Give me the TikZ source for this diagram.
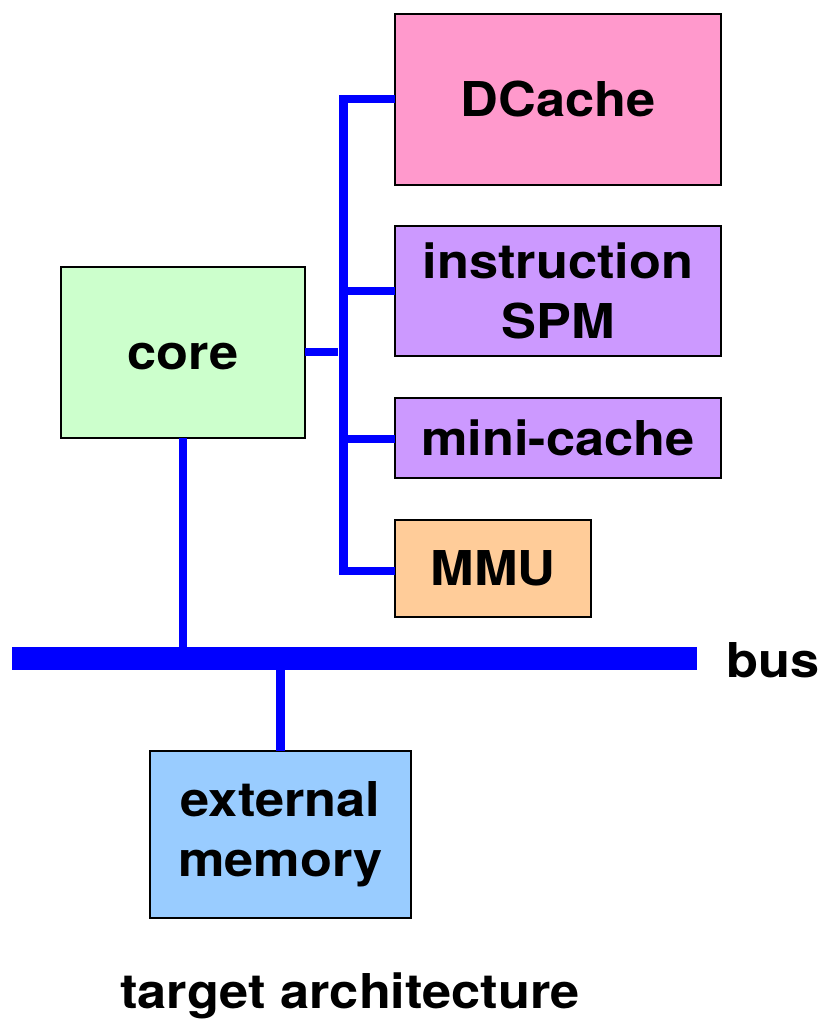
\documentclass[tikz,border=0pt]{standalone}
\usepackage{fontspec}
\setmainfont{TeX Gyre Heros}[FakeStretch=1.09]
\begin{document}
\begin{tikzpicture}[x=1pt,y=-1pt,
  box/.style={draw=black, line width=2pt, inner sep=0pt, outer sep=0pt,
    align=center, font=\fontsize{48}{60}\selectfont\bfseries},
  wire/.style={draw={rgb,255:red,0;green,0;blue,255}, line width=8.5pt, line join=miter},
  lbl/.style={inner sep=0pt, font=\fontsize{48}{60}\selectfont\bfseries}]
\definecolor{pinkc}{RGB}{255,153,204}
\definecolor{lilac}{RGB}{204,153,255}
\definecolor{peach}{RGB}{255,204,153}
\definecolor{mint}{RGB}{204,255,204}
\definecolor{skyc}{RGB}{153,204,255}
\definecolor{busblue}{RGB}{0,0,255}
\useasboundingbox (0,0) rectangle (823,1022);

% memory-side blocks
\node[box, fill=pinkc, minimum width=326pt, minimum height=171pt] (dc) at (558,99.5) {DCache};
\node[box, fill=lilac, minimum width=326pt, minimum height=130pt] (spm) at (558,291) {instruction\\SPM};
\node[box, fill=lilac, minimum width=326pt, minimum height=80pt] (mini) at (558,438) {mini-cache};
\node[box, fill=peach, minimum width=196pt, minimum height=97pt] (mmu) at (493,568.5) {MMU};

% processor and main memory
\node[box, fill=mint, minimum width=244pt, minimum height=171pt] (core) at (183,352.5) {};
\node[lbl] (corelbl) at (183,357) {core};
\node[box, fill=skyc, minimum width=261pt, minimum height=167pt] (ext) at (280.5,834.5) {external\\memory};

% system bus
\node[fill=busblue, inner sep=0pt, outer sep=0pt, minimum width=685pt, minimum height=23pt] (bus) at (354.5,658.5) {};
\node[lbl, anchor=west] (buslbl) at (726,660) {bus};

% local interconnect
\coordinate (sb) at (343.5,571);
\coordinate (stub) at (338,352);
\draw[wire] ([yshift=0.5pt]dc.west) -| (sb) -- (sb -| mmu.west);
\draw[wire] (spm.west) -- (spm.west -| sb);
\draw[wire] ([yshift=-1pt]mini.west) -- ([yshift=-1pt]mini.west -| sb);
\draw[wire] (core.east |- stub) -- (stub);

% bus taps
\draw[wire] (core.south) -- (core.south |- bus.north);
\draw[wire] (ext.north) -- (ext.north |- bus.south);

% caption
\node[lbl] (cap) at (350,996) {target architecture};
\end{tikzpicture}
\end{document}
